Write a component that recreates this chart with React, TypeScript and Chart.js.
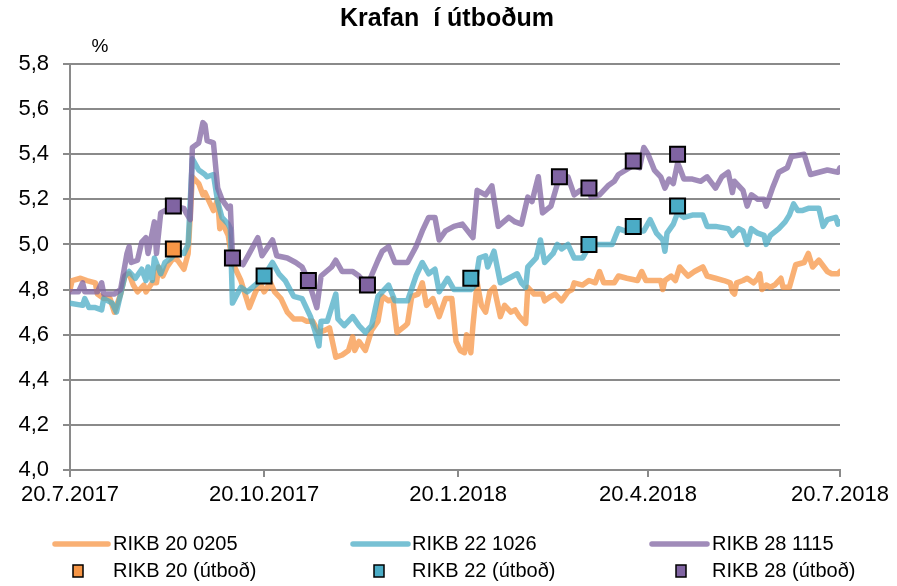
import React, { useEffect, useRef } from 'react';
import { Chart, registerables } from 'chart.js';

Chart.register(...registerables);

const FONT = "'Liberation Sans', Arial, sans-serif";

const titleText = 'Krafan  í útboðum';
const unitLabel = '%';
const tickDays = [0, 92, 184, 274, 365];
const tickLabels = ['20.7.2017', '20.10.2017', '20.1.2018', '20.4.2018', '20.7.2018'];
const seriesNames = ['RIKB 20 0205', 'RIKB 22 1026', 'RIKB 28 1115'];
const auctionNames = ['RIKB 20 (útboð)', 'RIKB 22 (útboð)', 'RIKB 28 (útboð)'];

// [days since 20.7.2017, yield %]
const rikb20: [number, number][] = [
  [0, 4.80], [1, 4.84], [5, 4.85], [8, 4.84], [12, 4.83], [13, 4.78], [16, 4.76], [19, 4.76], [21, 4.70], [24, 4.78],
  [26, 4.86], [28, 4.87], [30, 4.82], [32, 4.79], [35, 4.82], [36, 4.79], [39, 4.83], [41, 4.83], [42, 4.90], [44, 4.86],
  [46, 4.90], [49, 4.94], [51, 4.93], [54, 4.89], [56, 4.96], [58, 5.30], [61, 5.27], [63, 5.22], [64, 5.23], [66, 5.19],
  [68, 5.15], [70, 5.20], [71, 5.07], [72, 5.10], [75, 5.04], [77, 4.92], [81, 4.84], [83, 4.78], [85, 4.72], [88, 4.79],
  [90, 4.83], [92, 4.79], [95, 4.83], [97, 4.79], [100, 4.76], [103, 4.70], [106, 4.67], [110, 4.67], [112, 4.66], [115, 4.66],
  [118, 4.61], [121, 4.62], [123, 4.63], [126, 4.50], [129, 4.51], [132, 4.53], [134, 4.59], [135, 4.53], [137, 4.57], [140, 4.53],
  [143, 4.62], [146, 4.66], [148, 4.77], [151, 4.75], [153, 4.76], [155, 4.61], [159, 4.64], [160, 4.65], [162, 4.77], [165, 4.78],
  [167, 4.83], [169, 4.73], [172, 4.76], [175, 4.68], [178, 4.76], [181, 4.76], [183, 4.57], [185, 4.53], [187, 4.52], [188, 4.60],
  [190, 4.52], [191, 4.64], [193, 4.83], [195, 4.73], [197, 4.70], [199, 4.79], [201, 4.81], [204, 4.68], [206, 4.73], [209, 4.70],
  [211, 4.71], [213, 4.68], [216, 4.65], [217, 4.81], [220, 4.78], [224, 4.78], [225, 4.75], [228, 4.77], [230, 4.78], [233, 4.75],
  [236, 4.79], [238, 4.80], [239, 4.83], [243, 4.82], [246, 4.84], [249, 4.83], [251, 4.88], [253, 4.83], [258, 4.83], [260, 4.86],
  [264, 4.85], [269, 4.84], [271, 4.88], [273, 4.84], [276, 4.84], [280, 4.84], [281, 4.80], [282, 4.84], [285, 4.86], [287, 4.84],
  [289, 4.90], [291, 4.88], [293, 4.86], [296, 4.88], [300, 4.90], [302, 4.86], [306, 4.85], [310, 4.84], [313, 4.83], [314, 4.79],
  [315, 4.78], [316, 4.83], [319, 4.84], [321, 4.85], [324, 4.83], [326, 4.85], [327, 4.87], [328, 4.80], [330, 4.82], [332, 4.81],
  [334, 4.82], [337, 4.85], [338, 4.81], [341, 4.81], [344, 4.91], [348, 4.92], [350, 4.96], [352, 4.90], [355, 4.93], [359, 4.88],
  [361, 4.87], [364, 4.87], [365, 4.88],
];

const rikb22: [number, number][] = [
  [0, 4.74], [6, 4.73], [7, 4.76], [9, 4.72], [12, 4.72], [15, 4.71], [16, 4.76], [20, 4.74], [22, 4.70], [24, 4.78],
  [26, 4.86], [28, 4.88], [31, 4.85], [34, 4.89], [36, 4.84], [37, 4.90], [39, 4.84], [40, 4.94], [43, 4.87], [45, 4.92],
  [48, 4.94], [51, 4.97], [54, 4.96], [56, 5.00], [58, 5.38], [61, 5.33], [64, 5.31], [65, 5.30], [68, 5.31], [70, 5.19],
  [72, 5.12], [75, 5.09], [76, 5.07], [77, 4.74], [81, 4.81], [84, 4.79], [89, 4.83], [92, 4.86], [96, 4.92], [99, 4.87],
  [102, 4.84], [106, 4.77], [110, 4.76], [114, 4.68], [116, 4.62], [118, 4.55], [119, 4.66], [122, 4.66], [126, 4.78], [127, 4.67],
  [130, 4.64], [134, 4.68], [137, 4.64], [140, 4.61], [143, 4.64], [146, 4.77], [151, 4.82], [154, 4.75], [160, 4.75], [164, 4.86],
  [167, 4.92], [170, 4.87], [173, 4.89], [175, 4.79], [179, 4.85], [182, 4.80], [186, 4.80], [190, 4.80], [192, 4.82], [194, 4.94],
  [197, 4.95], [198, 4.90], [201, 4.97], [204, 4.83], [208, 4.85], [212, 4.87], [214, 4.83], [216, 4.81], [217, 4.90], [221, 4.94],
  [223, 5.02], [225, 4.92], [229, 4.96], [231, 5.00], [233, 4.98], [236, 5.00], [239, 4.94], [243, 4.94], [246, 4.99], [249, 5.00],
  [257, 5.00], [260, 5.07], [263, 5.06], [267, 5.06], [272, 5.06], [275, 5.11], [278, 5.05], [281, 5.02], [282, 4.97], [283, 5.05],
  [286, 5.09], [288, 5.14], [291, 5.12], [295, 5.13], [300, 5.13], [302, 5.08], [306, 5.08], [312, 5.07], [314, 5.04], [315, 5.05],
  [317, 5.07], [319, 5.06], [321, 5.00], [323, 5.07], [326, 5.05], [329, 5.04], [330, 5.00], [332, 5.04], [336, 5.07], [339, 5.10],
  [341, 5.13], [343, 5.18], [345, 5.15], [347, 5.15], [350, 5.16], [355, 5.16], [357, 5.08], [359, 5.11], [363, 5.12], [364, 5.09],
  [365, 5.10],
];

const rikb28: [number, number][] = [
  [0, 4.79], [4, 4.79], [6, 4.83], [7, 4.79], [13, 4.79], [15, 4.83], [16, 4.78], [21, 4.78], [24, 4.80], [27, 4.96],
  [28, 4.99], [29, 4.92], [32, 4.93], [34, 5.01], [36, 5.03], [37, 4.96], [40, 5.10], [41, 4.96], [43, 5.14], [45, 5.15],
  [49, 5.17], [54, 5.16], [55, 5.14], [57, 5.11], [58, 5.43], [61, 5.45], [63, 5.54], [64, 5.53], [65, 5.46], [68, 5.45],
  [70, 5.25], [72, 5.20], [75, 5.16], [76, 5.17], [77, 4.95], [82, 4.91], [85, 4.96], [89, 5.03], [91, 4.95], [96, 5.02],
  [98, 4.95], [103, 4.94], [107, 4.92], [110, 4.90], [113, 4.84], [117, 4.72], [119, 4.86], [124, 4.90], [126, 4.93], [129, 4.88],
  [134, 4.88], [137, 4.86], [141, 4.82], [146, 4.93], [148, 4.97], [151, 4.99], [154, 4.92], [160, 4.92], [164, 4.99], [167, 5.06],
  [170, 5.12], [173, 5.12], [175, 5.02], [178, 5.06], [182, 5.08], [186, 5.09], [191, 5.03], [193, 5.24], [197, 5.22], [200, 5.26],
  [203, 5.08], [208, 5.12], [211, 5.10], [214, 5.09], [217, 5.21], [219, 5.19], [222, 5.30], [224, 5.14], [228, 5.17], [232, 5.30],
  [236, 5.30], [239, 5.22], [242, 5.24], [246, 5.25], [247, 5.21], [251, 5.22], [255, 5.26], [258, 5.28], [260, 5.31], [267, 5.35],
  [270, 5.34], [272, 5.43], [274, 5.40], [277, 5.33], [280, 5.30], [282, 5.25], [284, 5.29], [286, 5.27], [288, 5.36], [289, 5.34],
  [291, 5.29], [295, 5.29], [299, 5.28], [302, 5.30], [306, 5.25], [309, 5.30], [312, 5.32], [314, 5.23], [315, 5.28], [319, 5.24],
  [321, 5.17], [323, 5.22], [326, 5.20], [329, 5.20], [330, 5.17], [333, 5.25], [336, 5.32], [340, 5.34], [342, 5.39], [348, 5.40],
  [351, 5.31], [355, 5.32], [359, 5.33], [364, 5.32], [365, 5.34],
];

const rikb20Auctions: [number, number][] = [[49, 4.98]];
const rikb22Auctions: [number, number][] = [[92, 4.86], [190, 4.85], [246, 5.00], [267, 5.08], [288, 5.17]];
const rikb28Auctions: [number, number][] = [
  [49, 5.17], [77, 4.94], [113, 4.84], [141, 4.82], [232, 5.30], [246, 5.25], [267, 5.37], [288, 5.40],
];

const lineColors = ['rgba(247,150,70,0.75)', 'rgba(75,172,198,0.75)', 'rgba(128,100,162,0.75)'];
const markerColors = ['#F79646', '#4BACC6', '#8064A2'];
const GRID = '#8a8a8a';

const toXY = (arr: [number, number][]) => arr.map(([x, y]) => ({ x, y }));

const overlayPlugin = {
  id: 'overlay',
  afterDraw(chart: any) {
    const ctx = chart.ctx as CanvasRenderingContext2D;
    ctx.save();
    ctx.fillStyle = '#000';
    ctx.textBaseline = 'middle';
    ctx.textAlign = 'center';
    ctx.font = `bold 25px ${FONT}`;
    ctx.fillText(titleText, 447, 19);
    ctx.font = `19px ${FONT}`;
    ctx.fillText(unitLabel, 100, 47);

    // legend
    ctx.textAlign = 'left';
    ctx.font = `20px ${FONT}`;
    const cols = [
      { l0: 55, l1: 108, sq: 78, tx: 113 },
      { l0: 353, l1: 408, sq: 379, tx: 412 },
      { l0: 652, l1: 707, sq: 681, tx: 712 },
    ];
    const row1 = 544;
    const row2 = 571;
    cols.forEach((c, i) => {
      ctx.strokeStyle = lineColors[i];
      ctx.lineWidth = 5.5;
      ctx.lineCap = 'round';
      ctx.beginPath();
      ctx.moveTo(c.l0, row1);
      ctx.lineTo(c.l1, row1);
      ctx.stroke();
      ctx.fillStyle = '#000';
      ctx.fillText(seriesNames[i], c.tx, row1);

      ctx.fillStyle = markerColors[i];
      ctx.fillRect(c.sq - 5, row2 - 6, 10, 12);
      ctx.strokeStyle = '#000';
      ctx.lineWidth = 1.5;
      ctx.strokeRect(c.sq - 5, row2 - 6, 10, 12);
      ctx.fillStyle = '#000';
      ctx.fillText(auctionNames[i], c.tx, row2);
    });
    ctx.restore();
  },
};

export default function App() {
  const canvasRef = useRef<HTMLCanvasElement | null>(null);

  useEffect(() => {
    if (!canvasRef.current) return;
    const markerDs = (data: [number, number][], i: number, label: string) => ({
      label,
      data: toXY(data),
      showLine: false,
      pointStyle: 'rect',
      pointRadius: 10.6,
      pointHoverRadius: 10.6,
      pointBackgroundColor: markerColors[i],
      pointBorderColor: '#000',
      pointBorderWidth: 2,
      backgroundColor: markerColors[i],
      borderColor: '#000',
      order: 0,
    });
    const lineDs = (data: [number, number][], i: number, order: number) => ({
      label: seriesNames[i],
      data: toXY(data),
      borderColor: lineColors[i],
      backgroundColor: lineColors[i],
      borderWidth: 5.5,
      pointRadius: 0,
      tension: 0,
      fill: false,
      borderJoinStyle: 'round',
      borderCapStyle: 'round',
      order,
    });

    const chart = new Chart(canvasRef.current, {
      type: 'line',
      data: {
        datasets: [
          markerDs(rikb20Auctions, 0, auctionNames[0]),
          markerDs(rikb22Auctions, 1, auctionNames[1]),
          markerDs(rikb28Auctions, 2, auctionNames[2]),
          lineDs(rikb28, 2, 1),
          lineDs(rikb22, 1, 2),
          lineDs(rikb20, 0, 3),
        ] as any,
      },
      options: {
        animation: false,
        responsive: true,
        maintainAspectRatio: false,
        layout: { padding: { left: 0, right: 57, top: 64, bottom: 66 } },
        plugins: {
          legend: { display: false },
          title: { display: false },
          tooltip: { enabled: false },
        },
        scales: {
          x: {
            type: 'linear',
            min: 0,
            max: 365,
            afterBuildTicks: (axis: any) => {
              axis.ticks = tickDays.map((v) => ({ value: v }));
            },
            afterFit: (axis: any) => {
              axis.height = 50;
            },
            ticks: {
              autoSkip: false,
              maxRotation: 0,
              padding: 5,
              color: '#000',
              font: { family: FONT, size: 22 },
              callback: (_v: any, index: number) => tickLabels[index],
            },
            grid: {
              drawOnChartArea: false,
              drawTicks: true,
              tickLength: 7,
              color: GRID,
              lineWidth: 2,
            },
            border: { display: true, color: GRID, width: 2 },
          },
          y: {
            type: 'linear',
            min: 4,
            max: 5.8,
            afterFit: (axis: any) => {
              axis.width = 70;
            },
            ticks: {
              stepSize: 0.2,
              padding: 14,
              color: '#000',
              font: { family: FONT, size: 22 },
              callback: (v: any) => Number(v).toFixed(1).replace('.', ','),
            },
            grid: {
              color: GRID,
              lineWidth: 2,
              tickLength: 7,
              drawTicks: true,
            },
            border: { display: true, color: GRID, width: 2 },
          },
        },
      } as any,
      plugins: [overlayPlugin],
    });
    return () => chart.destroy();
  }, []);

  return (
    <div style={{ position: 'absolute', left: 0, top: 0, width: 897, height: 586, background: '#fff' }}>
      <canvas ref={canvasRef} />
    </div>
  );
}
